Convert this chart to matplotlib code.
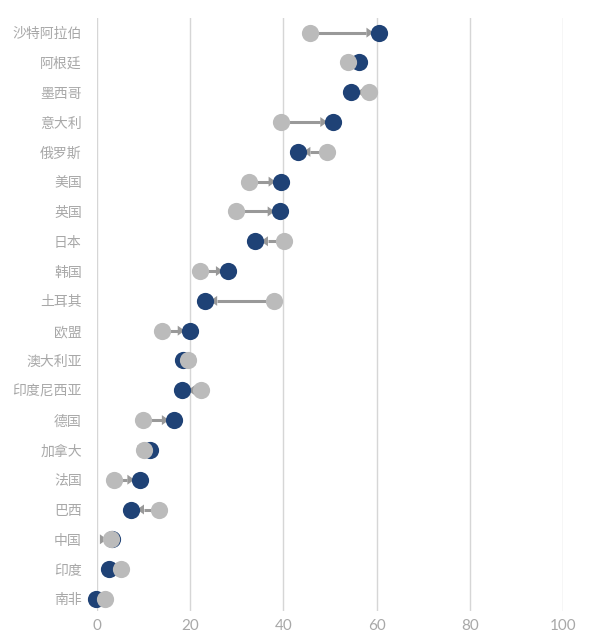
import matplotlib
matplotlib.use("Agg")
import matplotlib.pyplot as plt
from matplotlib.patches import Polygon
import numpy as np

plt.rcParams['font.family'] = ['Noto Sans CJK SC', 'DejaVu Sans']

# Countries, top to bottom
countries = ["沙特阿拉伯", "阿根廷", "墨西哥", "意大利", "俄罗斯", "美国", "英国", "日本",
             "韩国", "土耳其", "欧盟", "澳大利亚", "印度尼西亚", "德国", "加拿大", "法国",
             "巴西", "中国", "印度", "南非"]
# Earlier value (grey) and later value (blue)
start_values = [45.7, 53.9, 58.3, 39.5, 49.4, 32.7, 29.8, 40.2, 22.1, 38.0,
                13.9, 19.6, 22.3, 9.9, 10.1, 3.7, 13.3, 3.0, 5.1, 1.8]
end_values = [60.5, 56.2, 54.6, 50.6, 43.1, 39.5, 39.3, 34.0, 28.2, 23.1,
              20.0, 18.5, 18.3, 16.6, 11.4, 9.2, 7.4, 3.3, 2.6, -0.3]
x_ticks = [0, 20, 40, 60, 80, 100]

GREY = "#bbbbbb"
ARROW = "#999999"
BLUE = "#1f4276"
TEXT = "#a8a8a8"

fig = plt.figure(figsize=(6.14, 6.33), dpi=100)
ax = fig.add_axes([0.158, 0.035, 0.759, 0.937])

n = len(countries)
ypos = np.arange(n)[::-1]

ax.set_xlim(0, 100)
ax.set_ylim(-0.4, n - 0.5)

# pixel -> data conversion factors
bbox = ax.get_position()
px_x = bbox.width * fig.get_figwidth() * fig.dpi / 100.0
px_y = bbox.height * fig.get_figheight() * fig.dpi / (n - 0.5 + 0.4)

marker_d_pt = 12.4
head_base_off = 12.5 / px_x   # arrow head base, measured back from the blue centre
head_len = 7.0 / px_x
head_half = 5.0 / px_y

for y, s, e in zip(ypos, start_values, end_values):
    d = 1.0 if e >= s else -1.0
    base = e - d * head_base_off
    tip = base + d * head_len
    if d * (base - s) > 0:
        ax.plot([s, base], [y, y], color=ARROW, lw=2.2, solid_capstyle='butt',
                zorder=2, clip_on=False)
    ax.add_patch(Polygon([(tip, y), (base, y + head_half), (base, y - head_half)],
                         closed=True, facecolor=ARROW, edgecolor='none',
                         zorder=2, clip_on=False))

ax.scatter(end_values, ypos, s=marker_d_pt ** 2, color=BLUE, zorder=3,
           clip_on=False, linewidths=0)
ax.scatter(start_values, ypos, s=marker_d_pt ** 2, color=GREY, zorder=4,
           clip_on=False, linewidths=0)

ax.set_yticks(ypos)
ax.set_yticklabels(countries)
ax.set_xticks(x_ticks)
ax.set_xticklabels([str(t) for t in x_ticks], family=['Lato', 'DejaVu Sans'])

ax.tick_params(axis='y', length=0, pad=11, labelsize=10, labelcolor=TEXT)
ax.tick_params(axis='x', length=0, pad=6, labelsize=11, labelcolor=TEXT)

for sp in ax.spines.values():
    sp.set_visible(False)
ax.grid(axis='x', color="#d6d6d6", lw=1.0, zorder=0)
ax.set_axisbelow(True)

fig.savefig("out.png", dpi=100)
